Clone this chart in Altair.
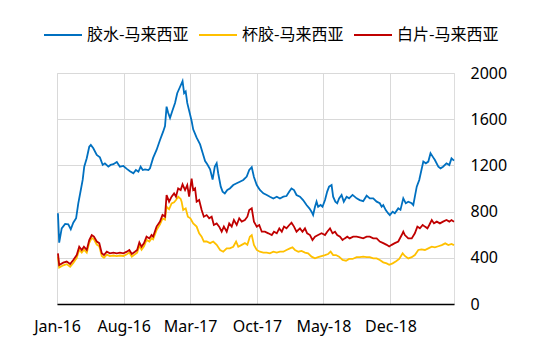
import altair as alt
import pandas as pd

SERIES = ["胶水-马来西亚", "杯胶-马来西亚", "白片-马来西亚"]
COLORS = ["#0070C0", "#FFC000", "#C00000"]

LATEX_DATES = [
    "2016-01-04", "2016-01-08", "2016-01-16", "2016-01-27", "2016-02-06", "2016-02-14", "2016-02-22",
    "2016-03-02", "2016-03-09", "2016-03-17", "2016-03-23", "2016-03-28", "2016-04-05", "2016-04-13",
    "2016-04-18", "2016-04-26", "2016-05-07", "2016-05-17", "2016-05-26", "2016-06-02", "2016-06-13",
    "2016-06-20", "2016-06-29", "2016-07-10", "2016-07-20", "2016-07-31", "2016-08-11", "2016-08-21",
    "2016-09-01", "2016-09-09", "2016-09-17", "2016-09-24", "2016-10-01", "2016-10-08", "2016-10-19",
    "2016-10-24", "2016-11-03", "2016-11-14", "2016-11-25", "2016-12-05", "2016-12-11", "2016-12-16",
    "2016-12-21", "2016-12-27", "2017-01-03", "2017-01-12", "2017-01-19", "2017-01-26", "2017-02-02",
    "2017-02-05", "2017-02-10", "2017-02-15", "2017-02-20", "2017-03-01", "2017-03-06", "2017-03-11",
    "2017-03-22", "2017-04-02", "2017-04-10", "2017-04-18", "2017-04-25", "2017-05-04", "2017-05-12",
    "2017-05-19", "2017-05-25", "2017-05-30", "2017-06-07", "2017-06-13", "2017-06-20", "2017-06-28",
    "2017-07-06", "2017-07-17", "2017-07-28", "2017-08-07", "2017-08-18", "2017-08-29", "2017-09-06",
    "2017-09-14", "2017-09-21", "2017-09-30", "2017-10-10", "2017-10-21", "2017-11-01", "2017-11-11",
    "2017-11-22", "2017-12-03", "2017-12-13", "2017-12-24", "2018-01-03", "2018-01-12", "2018-01-19",
    "2018-01-27", "2018-02-04", "2018-02-15", "2018-02-25", "2018-03-08", "2018-03-17", "2018-03-24",
    "2018-03-29", "2018-04-04", "2018-04-09", "2018-04-14", "2018-04-22", "2018-04-28", "2018-05-06",
    "2018-05-13", "2018-05-19", "2018-05-27", "2018-06-01", "2018-06-08", "2018-06-14", "2018-06-20",
    "2018-06-28", "2018-07-05", "2018-07-14", "2018-07-22", "2018-08-02", "2018-08-15", "2018-08-25",
    "2018-09-05", "2018-09-16", "2018-09-26", "2018-10-07", "2018-10-18", "2018-10-28", "2018-11-03",
    "2018-11-08", "2018-11-16", "2018-11-24", "2018-11-29", "2018-12-08", "2018-12-15", "2018-12-26",
    "2019-01-02", "2019-01-11", "2019-01-19", "2019-01-27", "2019-02-07", "2019-02-12", "2019-02-17",
    "2019-02-23", "2019-03-03", "2019-03-10", "2019-03-16", "2019-03-24", "2019-04-01", "2019-04-08",
    "2019-04-15", "2019-04-22", "2019-05-03", "2019-05-10", "2019-05-18", "2019-05-29", "2019-06-07",
    "2019-06-14", "2019-06-22",
]
LATEX_VALUES = [
    785, 531, 655, 693, 690, 647, 704,
    742, 872, 987, 1074, 1189, 1262, 1362,
    1377, 1348, 1290, 1270, 1204, 1218, 1189,
    1204, 1210, 1230, 1189, 1195, 1170, 1150,
    1131, 1160, 1145, 1189, 1160, 1165, 1160,
    1175, 1265, 1334, 1420, 1492, 1540, 1709,
    1656, 1611, 1669, 1741, 1825, 1868, 1911,
    1930, 1825, 1840, 1741, 1640, 1584, 1512,
    1440, 1382, 1310, 1238, 1210, 1166, 1077,
    1189, 1218, 1130, 1016, 973, 958, 987,
    1000, 1030, 1045, 1059, 1074, 1103, 1160,
    1184, 1100, 1030, 987, 958, 944, 929,
    914, 929, 914, 929, 935, 973, 1001,
    987, 944, 929, 900, 857, 828, 799,
    770, 842, 886, 842, 857, 842, 900,
    973, 1016, 1030, 929, 886, 872, 914,
    944, 886, 929, 915, 945, 915, 900,
    890, 938, 915, 915, 886, 872, 842,
    857, 813, 784, 770, 799, 785, 828,
    815, 915, 872, 886, 872, 857, 929,
    1016, 1074, 1160, 1233, 1218, 1233, 1305,
    1276, 1247, 1189, 1175, 1189, 1218, 1203,
    1261, 1241,
]

CUP_DATES = [
    "2016-01-04", "2016-01-08", "2016-01-21", "2016-02-01", "2016-02-12", "2016-02-22", "2016-03-04",
    "2016-03-12", "2016-03-20", "2016-03-27", "2016-04-05", "2016-04-13", "2016-04-21", "2016-04-28",
    "2016-05-07", "2016-05-15", "2016-05-23", "2016-05-30", "2016-06-08", "2016-06-18", "2016-06-29",
    "2016-07-10", "2016-07-20", "2016-07-31", "2016-08-11", "2016-08-19", "2016-08-27", "2016-09-06",
    "2016-09-13", "2016-09-20", "2016-09-27", "2016-10-05", "2016-10-13", "2016-10-22", "2016-10-29",
    "2016-11-03", "2016-11-14", "2016-11-25", "2016-12-03", "2016-12-11", "2016-12-16", "2016-12-24",
    "2017-01-01", "2017-01-09", "2017-01-15", "2017-01-22", "2017-01-30", "2017-02-02", "2017-02-07",
    "2017-02-15", "2017-02-22", "2017-03-02", "2017-03-11", "2017-03-22", "2017-03-30", "2017-04-07",
    "2017-04-14", "2017-04-23", "2017-05-04", "2017-05-14", "2017-05-25", "2017-06-05", "2017-06-15",
    "2017-06-26", "2017-07-06", "2017-07-17", "2017-07-26", "2017-08-02", "2017-08-13", "2017-08-23",
    "2017-08-31", "2017-09-08", "2017-09-14", "2017-09-21", "2017-09-30", "2017-10-10", "2017-10-21",
    "2017-11-01", "2017-11-11", "2017-11-22", "2017-12-03", "2017-12-13", "2017-12-24", "2018-01-03",
    "2018-01-14", "2018-01-22", "2018-01-30", "2018-02-10", "2018-02-20", "2018-03-03", "2018-03-13",
    "2018-03-24", "2018-04-04", "2018-04-14", "2018-04-25", "2018-05-06", "2018-05-16", "2018-05-24",
    "2018-06-01", "2018-06-10", "2018-06-20", "2018-07-01", "2018-07-12", "2018-07-22", "2018-08-02",
    "2018-08-15", "2018-08-25", "2018-09-05", "2018-09-16", "2018-09-26", "2018-10-07", "2018-10-18",
    "2018-10-28", "2018-11-08", "2018-11-19", "2018-11-27", "2018-12-08", "2018-12-19", "2018-12-29",
    "2019-01-09", "2019-01-16", "2019-01-27", "2019-02-07", "2019-02-17", "2019-02-28", "2019-03-10",
    "2019-03-21", "2019-04-01", "2019-04-12", "2019-04-22", "2019-05-03", "2019-05-14", "2019-05-25",
    "2019-06-04", "2019-06-14", "2019-06-22",
]
CUP_VALUES = [
    410, 315, 335, 345, 322, 355, 400,
    470, 445, 470, 445, 530, 572, 560,
    515, 500, 415, 400, 428, 415, 420,
    415, 420, 416, 430, 445, 410, 430,
    445, 505, 470, 500, 555, 540, 570,
    560, 640, 690, 740, 730, 842, 820,
    870, 880, 900, 929, 910, 886, 814,
    828, 756, 742, 698, 670, 612, 583,
    541, 541, 527, 541, 512, 468, 453,
    482, 482, 496, 541, 496, 512, 527,
    512, 583, 597, 511, 468, 453, 445,
    445, 439, 453, 445, 453, 453, 468,
    482, 490, 468, 453, 460, 445, 439,
    410, 395, 405, 415, 424, 433, 453,
    424, 424, 410, 381, 375, 390, 390,
    405, 405, 410, 405, 405, 395, 395,
    381, 361, 352, 340, 352, 370, 390,
    439, 416, 395, 405, 424, 468, 473,
    468, 482, 496, 490, 500, 510, 525,
    510, 520, 510,
]

SHEET_DATES = [
    "2016-01-04", "2016-01-08", "2016-01-21", "2016-02-01", "2016-02-12", "2016-02-22", "2016-03-04",
    "2016-03-12", "2016-03-20", "2016-03-27", "2016-04-05", "2016-04-13", "2016-04-21", "2016-04-28",
    "2016-05-07", "2016-05-15", "2016-05-23", "2016-05-30", "2016-06-08", "2016-06-18", "2016-06-29",
    "2016-07-10", "2016-07-20", "2016-07-31", "2016-08-11", "2016-08-19", "2016-08-27", "2016-09-06",
    "2016-09-13", "2016-09-20", "2016-09-27", "2016-10-05", "2016-10-13", "2016-10-22", "2016-10-29",
    "2016-11-03", "2016-11-14", "2016-11-25", "2016-12-03", "2016-12-11", "2016-12-16", "2016-12-24",
    "2017-01-01", "2017-01-09", "2017-01-15", "2017-01-22", "2017-01-30", "2017-02-05", "2017-02-13",
    "2017-02-20", "2017-02-26", "2017-03-06", "2017-03-11", "2017-03-17", "2017-03-22", "2017-03-30",
    "2017-04-07", "2017-04-14", "2017-04-23", "2017-05-01", "2017-05-09", "2017-05-16", "2017-05-25",
    "2017-06-02", "2017-06-10", "2017-06-17", "2017-06-26", "2017-07-04", "2017-07-12", "2017-07-19",
    "2017-07-28", "2017-08-05", "2017-08-13", "2017-08-23", "2017-08-31", "2017-09-06", "2017-09-14",
    "2017-09-21", "2017-09-30", "2017-10-08", "2017-10-16", "2017-10-26", "2017-11-06", "2017-11-17",
    "2017-11-24", "2017-12-03", "2017-12-11", "2017-12-19", "2017-12-26", "2018-01-03", "2018-01-12",
    "2018-01-19", "2018-01-27", "2018-02-04", "2018-02-15", "2018-02-23", "2018-03-03", "2018-03-10",
    "2018-03-19", "2018-03-27", "2018-04-04", "2018-04-14", "2018-04-25", "2018-05-06", "2018-05-13",
    "2018-05-22", "2018-05-30", "2018-06-07", "2018-06-14", "2018-06-23", "2018-07-01", "2018-07-08",
    "2018-07-16", "2018-07-24", "2018-08-04", "2018-08-15", "2018-08-25", "2018-09-05", "2018-09-16",
    "2018-09-26", "2018-10-07", "2018-10-18", "2018-10-28", "2018-11-08", "2018-11-19", "2018-11-27",
    "2018-12-05", "2018-12-15", "2018-12-26", "2019-01-06", "2019-01-11", "2019-01-16", "2019-01-27",
    "2019-02-07", "2019-02-17", "2019-02-25", "2019-03-05", "2019-03-14", "2019-03-21", "2019-03-29",
    "2019-04-04", "2019-04-12", "2019-04-19", "2019-04-28", "2019-05-08", "2019-05-18", "2019-05-29",
    "2019-06-07", "2019-06-14", "2019-06-22",
]
SHEET_VALUES = [
    439, 338, 358, 367, 346, 381, 424,
    496, 468, 496, 468, 554, 597, 583,
    541, 527, 439, 424, 453, 439, 445,
    439, 445, 439, 453, 468, 433, 453,
    468, 533, 496, 527, 583, 568, 597,
    583, 670, 714, 771, 757, 944, 886,
    929, 958, 929, 1001, 987, 1036, 987,
    1030, 929, 1085, 987, 1001, 886, 900,
    814, 756, 770, 742, 756, 684, 698,
    670, 626, 670, 626, 698, 670, 727,
    684, 742, 713, 727, 756, 814, 828,
    713, 670, 684, 626, 626, 612, 597,
    626, 612, 655, 626, 670, 655, 684,
    704, 670, 626, 655, 626, 655, 612,
    597, 554, 583, 597, 612, 597, 626,
    655, 612, 626, 597, 583, 554, 568,
    583, 568, 583, 583, 577, 568, 583,
    583, 568, 568, 541, 527, 512, 498,
    512, 527, 541, 597, 626, 597, 568,
    568, 612, 670, 655, 684, 670, 655,
    684, 727, 698, 713, 698, 713, 727,
    713, 727, 713,
]

X_TICKS = ["2016-01-01", "2016-08-01", "2017-03-01", "2017-10-01", "2018-05-01", "2018-12-01"]
X_DOMAIN = ["2016-01-01", "2019-06-22"]
Y_TICKS = [0, 400, 800, 1200, 1600, 2000]
Y_DOMAIN = [0, 2000]


def dt(s):
    y, m, d = (int(p) for p in s.split("-"))
    return alt.DateTime(year=y, month=m, date=d)


rows = []
for name, dates, vals in zip(SERIES, [LATEX_DATES, CUP_DATES, SHEET_DATES],
                             [LATEX_VALUES, CUP_VALUES, SHEET_VALUES]):
    for d, v in zip(dates, vals):
        rows.append({"series": name, "date": d, "value": v})
df = pd.DataFrame(rows)

x_enc = alt.X(
    "date:T",
    scale=alt.Scale(domain=[dt(s) for s in X_DOMAIN]),
    axis=alt.Axis(
        values=[dt(s) for s in X_TICKS], format="%b-%y", title=None, grid=True,
        ticks=False, tickSize=0, domain=True, domainColor="#000000", domainWidth=1.5,
        labelFont="Noto Sans", labelFontSize=16, labelColor="#000000", labelPadding=14,
        labelFlush=False, labelOverlap=False, labelAlign="center",
        gridColor="#d9d9d9", gridWidth=1,
    ),
)
y_enc = alt.Y(
    "value:Q",
    scale=alt.Scale(domain=Y_DOMAIN, nice=False),
    axis=alt.Axis(
        orient="right", values=Y_TICKS, format="d", title=None, grid=True, ticks=False,
        tickSize=0, domain=False, labelFont="Noto Sans", labelFontSize=16,
        labelColor="#000000", labelAlign="left", labelBaseline="middle", labelPadding=16,
        labelFlush=False, gridColor="#d9d9d9", gridWidth=1,
    ),
)
color_enc = alt.Color(
    "series:N",
    scale=alt.Scale(domain=SERIES, range=COLORS),
    legend=alt.Legend(
        title=None, orient="none", legendX=-14, legendY=-58, direction="horizontal",
        symbolType="stroke", symbolSize=1444, symbolStrokeWidth=2,
        labelFont="Noto Sans CJK SC", labelFontSize=16, labelColor="#000000",
        labelOffset=4, columnPadding=6, padding=0,
    ),
)

base = alt.Chart(df).mark_line(strokeWidth=1.8).encode(x=x_enc, y=y_enc, color=color_enc)
layers = [base.transform_filter(alt.datum.series == s) for s in SERIES]

chart = alt.layer(*layers).properties(
    width=397, height=231,
    autosize=alt.AutoSizeParams(type="none"),
    padding={"left": 57, "top": 73, "right": 79, "bottom": 51},
).configure_view(stroke=None).configure(background="white")

chart.save("out.html", embed_options={"renderer": "svg", "actions": False})
